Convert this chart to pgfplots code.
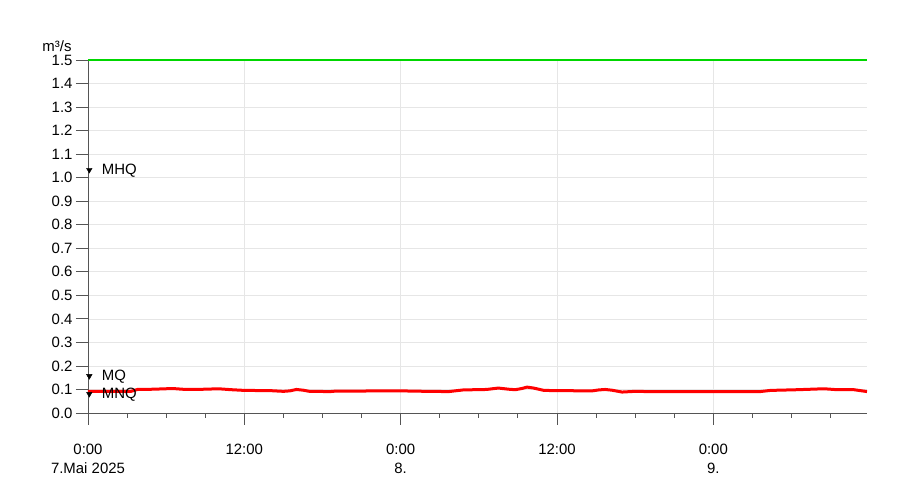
\documentclass[border=0pt]{standalone}
\usepackage{fontspec}
\setmainfont{Liberation Sans}
\usepackage{pgfplots}
\pgfplotsset{compat=1.18}

\definecolor{gridgray}{HTML}{E6E6E6}
\definecolor{axisgray}{HTML}{555555}
\definecolor{qgreen}{RGB}{0,215,0}

\begin{document}
\begin{tikzpicture}[x=1bp,y=1bp]
\useasboundingbox (-88,-83) rectangle (812,413);
\begin{axis}[
    at={(0,0)}, anchor=origin,
    scale only axis,
    width=779bp, height=353bp,
    xmin=0, xmax=59.8,
    ymin=0, ymax=1.5,
    axis x line=bottom, axis y line=left,
    axis line style={-, axisgray, line width=0.8bp},
    tick align=outside,
    tick style={axisgray, line width=0.8bp},
    major tick length=12bp, minor tick length=5bp,
    xtick={0,12,24,36,48},
    minor xtick={3,6,9,15,18,21,27,30,33,39,42,45,51,54,57},
    xticklabels={{0:00\\7.Mai 2025},{12:00},{0:00\\8.},{12:00},{0:00\\9.}},
    xticklabel style={align=center, font=\fontsize{15}{19}\selectfont, yshift=-16bp},
    ytick={0,0.1,0.2,0.3,0.4,0.5,0.6,0.7,0.8,0.9,1.0,1.1,1.2,1.3,1.4,1.5},
    yticklabel style={font=\fontsize{15}{17}\selectfont,
        /pgf/number format/.cd, fixed, fixed zerofill, precision=1, assume math mode=true},
    grid=major,
    major grid style={gridgray, line width=0.6bp},
    clip=false,
]
% green reference line
\addplot[qgreen, line width=1.5bp] coordinates {(0,1.5) (59.8,1.5)};

% discharge
\addplot[red, line width=3bp, line join=round] coordinates {
(0,0.092) (3.3,0.092) (3.8,0.100) (5,0.101) (6.5,0.104) (7.5,0.100) (9,0.101)
(10,0.103) (11,0.099) (12,0.096) (14,0.095) (15,0.092) (15.5,0.094) (16,0.100)
(16.5,0.097) (17,0.092) (18.6,0.091) (19,0.093) (24,0.094) (26,0.092) (27.7,0.091)
(28.8,0.098) (30.6,0.100) (31.5,0.106) (32.3,0.101) (32.8,0.099) (33.3,0.104)
(33.7,0.110) (34.2,0.106) (35,0.096) (36,0.095) (38.7,0.094) (39.2,0.098)
(39.7,0.100) (40.2,0.097) (41,0.089) (42,0.092) (43,0.091) (48,0.091) (51.6,0.091)
(52.4,0.096) (54.5,0.099) (56.5,0.103) (57.5,0.099) (58.8,0.099) (59.8,0.091)
};

% MHQ, MQ, MNQ markers
\addplot[only marks, mark=triangle*, mark size=3.2bp, mark options={rotate=180, black},
    nodes near coords, point meta=explicit symbolic,
    every node near coord/.append style={anchor=west, xshift=9bp, yshift=-1bp,
        font=\fontsize{15}{17}\selectfont, text=black}]
    coordinates {(0.1,1.033)[MHQ] (0.1,0.157)[MQ] (0.1,0.081)[MNQ]};
\end{axis}
\node[anchor=base, font=\fontsize{15}{17}\selectfont] at (-31,361) {m³/s};
\end{tikzpicture}
\end{document}
